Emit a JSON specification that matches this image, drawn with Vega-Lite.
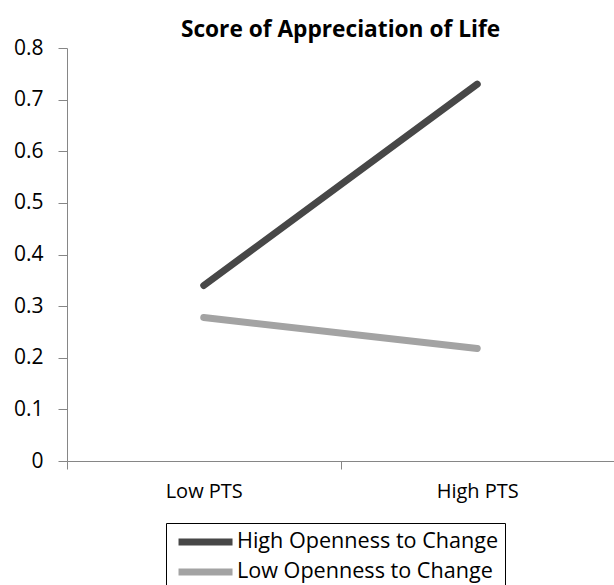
{
  "$schema": "https://vega.github.io/schema/vega-lite/v6.json",
  "width": 547,
  "height": 413,
  "autosize": {"type": "none"},
  "padding": {"left": 67, "top": 48, "right": 0, "bottom": 124},
  "background": "white",
  "config": {
    "view": {"stroke": null},
    "font": "Open Sans"
  },
  "title": {
    "text": "Score of Appreciation of Life",
    "anchor": "middle",
    "frame": "group",
    "fontSize": 22.7,
    "fontWeight": "bold",
    "font": "Open Sans",
    "color": "#000000",
    "offset": -5
  },
  "data": {
    "values": [
      {"pts": "Low PTS", "group": "High Openness to Change", "score": 0.34},
      {"pts": "High PTS", "group": "High Openness to Change", "score": 0.73},
      {"pts": "Low PTS", "group": "Low Openness to Change", "score": 0.278},
      {"pts": "High PTS", "group": "Low Openness to Change", "score": 0.218}
    ]
  },
  "mark": {"type": "line", "strokeWidth": 7, "strokeCap": "round"},
  "encoding": {
    "x": {
      "field": "pts",
      "type": "nominal",
      "sort": ["Low PTS", "High PTS"],
      "scale": {"type": "band", "paddingInner": 0, "paddingOuter": 0},
      "axis": {
        "title": null,
        "labelAngle": 0,
        "tickBand": "extent",
        "domainColor": "#868686",
        "tickColor": "#868686",
        "tickSize": 8,
        "labelPadding": 12,
        "labelFontSize": 20,
        "labelColor": "#000000",
        "labelFont": "Open Sans"
      }
    },
    "y": {
      "field": "score",
      "type": "quantitative",
      "scale": {"domain": [0, 0.8], "nice": false},
      "axis": {
        "title": null,
        "values": [0, 0.1, 0.2, 0.3, 0.4, 0.5, 0.6, 0.7, 0.8],
        "format": ".1~f",
        "grid": false,
        "domainColor": "#868686",
        "tickColor": "#868686",
        "tickSize": 9,
        "labelPadding": 15,
        "labelFontSize": 21,
        "labelColor": "#000000",
        "labelFont": "Open Sans"
      }
    },
    "color": {
      "field": "group",
      "type": "nominal",
      "scale": {
        "domain": ["High Openness to Change", "Low Openness to Change"],
        "range": ["#474747", "#a3a3a3"]
      },
      "legend": {
        "title": null,
        "orient": "none",
        "legendX": 99,
        "legendY": 475,
        "strokeColor": "#000000",
        "fillColor": "#ffffff",
        "padding": 6.5,
        "symbolType": "M-0.72,0H5.28",
        "symbolSize": 324,
        "symbolStrokeWidth": 7,
        "symbolStrokeCap": "round",
        "labelFontSize": 21.6,
        "labelFont": "Open Sans",
        "labelColor": "#000000",
        "labelOffset": 39.5,
        "rowPadding": 1,
        "labelLimit": 400
      }
    }
  }
}
